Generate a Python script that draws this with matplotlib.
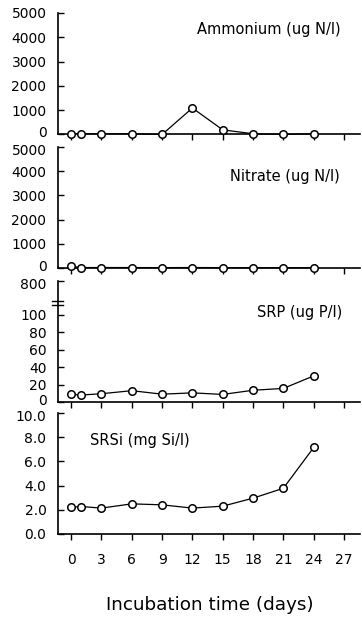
#! /usr/bin/env python3

import numpy as np
from matplotlib import pyplot as plt
from matplotlib import transforms

days = [0, 1, 3, 6, 9, 12, 15, 18, 21, 24]
ammonium = [30, 30, 30, 30, 0, 1090, 190, 30, 0, 30]
nitrate = [70, 20, 20, 20, 15, 20, 15, 15, 10, 15]
srp = [8.7, 8.0, 9.5, 13.0, 9.0, 10.5, 8.7, 13.5, 15.6, 30.0]
srsi = [2.22, 2.27, 2.14, 2.49, 2.41, 2.14, 2.30, 2.96, 3.78, 7.15]

xticks = [0, 3, 6, 9, 12, 15, 18, 21, 24, 27]
labels = ["Ammonium (ug N/l)", "Nitrate (ug N/l)", "SRP (ug P/l)", "SRSi (mg Si/l)"]

plt.rcParams["font.family"] = ["DejaVu Sans"]
plt.rcParams["font.size"] = 10

fig = plt.figure(figsize = (3.62, 6.22), dpi = 100)

# panel boxes in figure fractions (left, bottom, width, height)
boxes = [
    (0.159, 0.7838, 0.836, 0.1953),
    (0.159, 0.5691, 0.836, 0.1945),
    (0.159, 0.3537, 0.836, 0.1945),
    (0.159, 0.1415, 0.836, 0.1945),
]

series = [ammonium, nitrate, srp, srsi]
axes = []
for i, (box, vals) in enumerate(zip(boxes, series)):
    ax = fig.add_axes(box)
    axes.append(ax)
    ax.plot(days, vals, '-o', color = "black", lw = 0.9,
            markersize = 5.4, markerfacecolor = "white",
            markeredgecolor = "black", markeredgewidth = 1.1,
            clip_on = False, zorder = 3)
    ax.set_xlim(-1.34, 28.6)
    ax.spines["top"].set_visible(False)
    ax.spines["right"].set_visible(False)
    ax.spines["left"].set_linewidth(1.2)
    ax.spines["bottom"].set_linewidth(1.2)
    ax.set_xticks(xticks)
    ax.tick_params(axis = "x", direction = "out", length = 4, width = 1.0, pad = 10, labelsize = 10)
    ax.tick_params(axis = "y", direction = "in", length = 4, width = 1.0, pad = 8, labelsize = 10)
    if i < 3:
        ax.set_xticklabels([])

# ammonium / nitrate
for ax in axes[:2]:
    ax.set_ylim(0, 5000)
    ax.set_yticks([0, 1000, 2000, 3000, 4000, 5000])

# SRP, broken axis with 800 at the top
ax = axes[2]
ax.set_ylim(0, 139)
ax.set_yticks([0, 20, 40, 60, 80, 100, 139])
ax.set_yticklabels(["0", "20", "40", "60", "80", "100", "800"])
for yb in (112.0, 115.5):
    ax.plot([-0.018, 0.018], [yb, yb], color = "black", lw = 1.0,
            transform = ax.get_yaxis_transform(), clip_on = False)

# SRSi
ax = axes[3]
ax.set_ylim(0, 10)
ax.set_yticks([0, 2, 4, 6, 8, 10])
ax.set_yticklabels(["0.0", "2.0", "4.0", "6.0", "8.0", "10.0"])

# nudge the stacked labels apart where panels meet
up = transforms.ScaledTranslation(0, 2.5 / 100, fig.dpi_scale_trans)
down = transforms.ScaledTranslation(0, -2.5 / 100, fig.dpi_scale_trans)
for i, ax in enumerate(axes):
    ticklabels = ax.get_yticklabels()
    if i < 3:
        ticklabels[0].set_transform(ticklabels[0].get_transform() + up)
    if i > 0:
        ticklabels[-1].set_transform(ticklabels[-1].get_transform() + down)

axes[0].text(0.934, 0.868, labels[0], transform = axes[0].transAxes, ha = "right", va = "center", fontsize = 10.5)
axes[1].text(0.934, 0.76, labels[1], transform = axes[1].transAxes, ha = "right", va = "center", fontsize = 10.5)
axes[2].text(0.940, 0.738, labels[2], transform = axes[2].transAxes, ha = "right", va = "center", fontsize = 10.5)
axes[3].text(0.107, 0.771, labels[3], transform = axes[3].transAxes, ha = "left", va = "center", fontsize = 10.5)

fig.text(210 / 362, 1 - 605 / 622, "Incubation time (days)", ha = "center", va = "center", fontsize = 13.2)

fig.savefig("out.png", dpi = 100)
